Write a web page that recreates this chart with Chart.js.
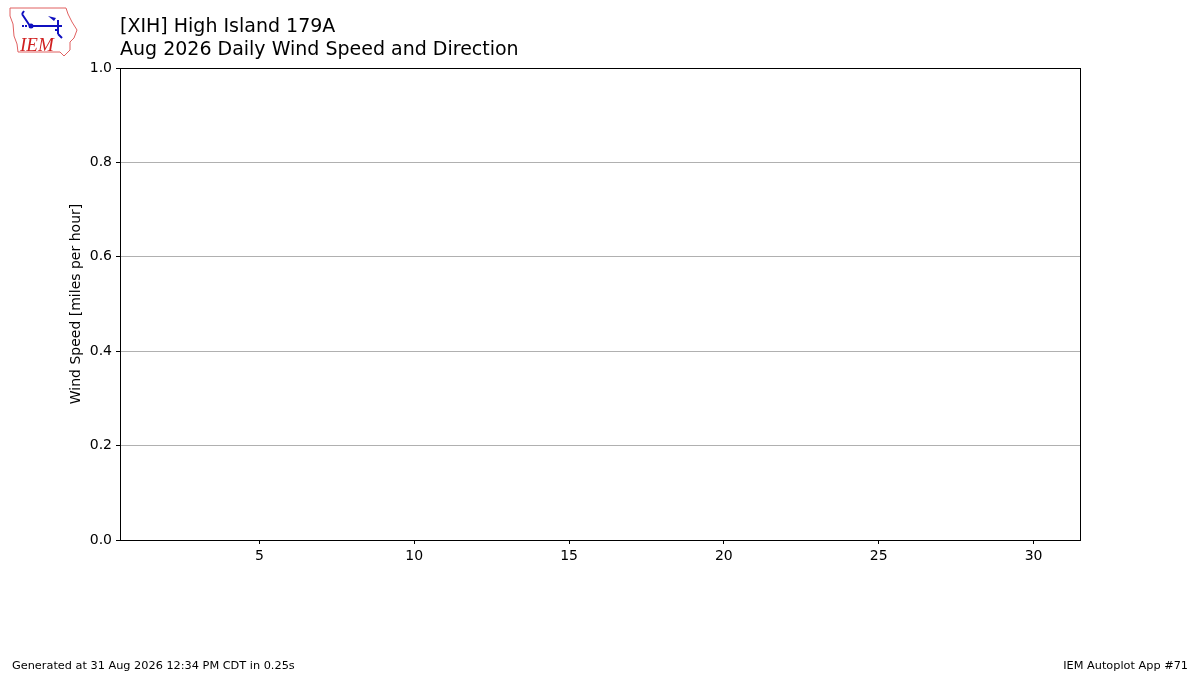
<!DOCTYPE html>
<html>
<head>
<meta charset="utf-8">
<script src="https://cdn.jsdelivr.net/npm/chart.js@4/dist/chart.umd.min.js"></script>
<style>
  html, body { margin: 0; padding: 0; background: #fff; }
  #chart { display: block; }
</style>
</head>
<body>
<canvas id="chart" width="1200" height="675"></canvas>
<script>
const days = [1, 2, 3, 4, 5, 6, 7, 8, 9, 10, 11, 12, 13, 14, 15, 16, 17, 18, 19, 20,
  21, 22, 23, 24, 25, 26, 27, 28, 29, 30, 31];
// no observations for the month
const windSpeed = [];
const xTicks = [5, 10, 15, 20, 25, 30];
const yTicks = [0, 0.2, 0.4, 0.6, 0.8, 1.0];

const titleLines = ['[XIH] High Island 179A', 'Aug 2026 Daily Wind Speed and Direction'];
const footerLeft = 'Generated at 31 Aug 2026 12:34 PM CDT in 0.25s';
const footerRight = 'IEM Autoplot App #71';

const FONT = '"DejaVu Sans", sans-serif';

const decorations = {
  id: 'decorations',
  afterDraw(chart) {
    const ctx = chart.ctx;
    const area = chart.chartArea;
    ctx.save();

    // frame around the axes
    ctx.strokeStyle = '#000';
    ctx.lineWidth = 1;
    ctx.strokeRect(Math.round(area.left) + 0.5, Math.round(area.top) + 0.5,
      Math.round(area.right - area.left), Math.round(area.bottom - area.top));

    // titles
    ctx.fillStyle = '#000';
    ctx.font = '19px ' + FONT;
    ctx.textBaseline = 'alphabetic';
    ctx.textAlign = 'left';
    ctx.fillText(titleLines[0], 120, 32);
    ctx.fillText(titleLines[1], 120, 55);

    // footer
    ctx.font = '11.3px ' + FONT;
    ctx.fillText(footerLeft, 12, 669);
    ctx.textAlign = 'right';
    ctx.fillText(footerRight, 1188, 669);

    // IEM logo (rough sketch)
    ctx.strokeStyle = '#e06060';
    ctx.lineWidth = 1;
    ctx.beginPath();
    ctx.moveTo(10, 8);
    ctx.lineTo(66, 8);
    ctx.lineTo(68, 14);
    ctx.lineTo(72, 22);
    ctx.lineTo(77, 30);
    ctx.lineTo(74, 38);
    ctx.lineTo(70, 42);
    ctx.lineTo(70, 50);
    ctx.lineTo(64, 56);
    ctx.lineTo(60, 52);
    ctx.lineTo(18, 52);
    ctx.lineTo(17, 44);
    ctx.lineTo(14, 36);
    ctx.lineTo(13, 24);
    ctx.lineTo(10, 16);
    ctx.closePath();
    ctx.stroke();

    ctx.strokeStyle = '#1010c0';
    ctx.fillStyle = '#1010c0';
    ctx.lineWidth = 2;
    ctx.beginPath();
    ctx.moveTo(30, 26);
    ctx.lineTo(62, 26);
    ctx.moveTo(30, 26);
    ctx.lineTo(22, 14);
    ctx.moveTo(22, 14);
    ctx.lineTo(24, 11);
    ctx.moveTo(58, 20);
    ctx.lineTo(58, 34);
    ctx.moveTo(58, 34);
    ctx.lineTo(62, 38);
    ctx.stroke();
    ctx.beginPath();
    ctx.arc(31, 26, 2.5, 0, Math.PI * 2);
    ctx.fill();
    ctx.beginPath();
    ctx.moveTo(48, 16);
    ctx.lineTo(56, 18);
    ctx.lineTo(54, 21);
    ctx.closePath();
    ctx.fill();
    ctx.fillRect(22, 25, 2, 2);
    ctx.fillRect(25, 25, 2, 2);
    ctx.fillRect(55, 29, 2, 2);

    ctx.fillStyle = '#d02020';
    ctx.font = 'italic 19px "Liberation Serif", serif';
    ctx.textAlign = 'left';
    ctx.fillText('IEM', 20, 51);

    ctx.restore();
  }
};

new Chart(document.getElementById('chart'), {
  type: 'scatter',
  data: {
    labels: days,
    datasets: [{
      label: 'Wind Speed',
      data: windSpeed.map((v, i) => ({ x: days[i], y: v })),
      borderColor: '#000',
      backgroundColor: '#000'
    }]
  },
  options: {
    responsive: false,
    animation: false,
    devicePixelRatio: 1,
    layout: { padding: { top: 68, right: 120, left: 64, bottom: 0 } },
    plugins: {
      legend: { display: false },
      tooltip: { enabled: false }
    },
    scales: {
      x: {
        type: 'linear',
        min: 0.5,
        max: 31.5,
        afterFit: scale => { scale.height = 135; },
        afterBuildTicks: scale => { scale.ticks = xTicks.map(v => ({ value: v })); },
        grid: {
          drawOnChartArea: false,
          tickLength: 4,
          tickColor: '#000'
        },
        border: { display: false },
        ticks: {
          color: '#000',
          padding: 4,
          maxRotation: 0,
          font: { family: FONT, size: 14 }
        }
      },
      y: {
        min: 0,
        max: 1,
        afterFit: scale => { scale.width = 56; },
        afterBuildTicks: scale => { scale.ticks = yTicks.map(v => ({ value: v })); },
        grid: {
          color: '#b0b0b0',
          tickColor: '#000',
          tickLength: 4
        },
        border: { display: false },
        title: {
          display: true,
          text: 'Wind Speed [miles per hour]',
          color: '#000',
          font: { family: FONT, size: 14 }
        },
        ticks: {
          color: '#000',
          padding: 4,
          font: { family: FONT, size: 14 },
          callback: v => v.toFixed(1)
        }
      }
    }
  },
  plugins: [decorations]
});
</script>
</body>
</html>
